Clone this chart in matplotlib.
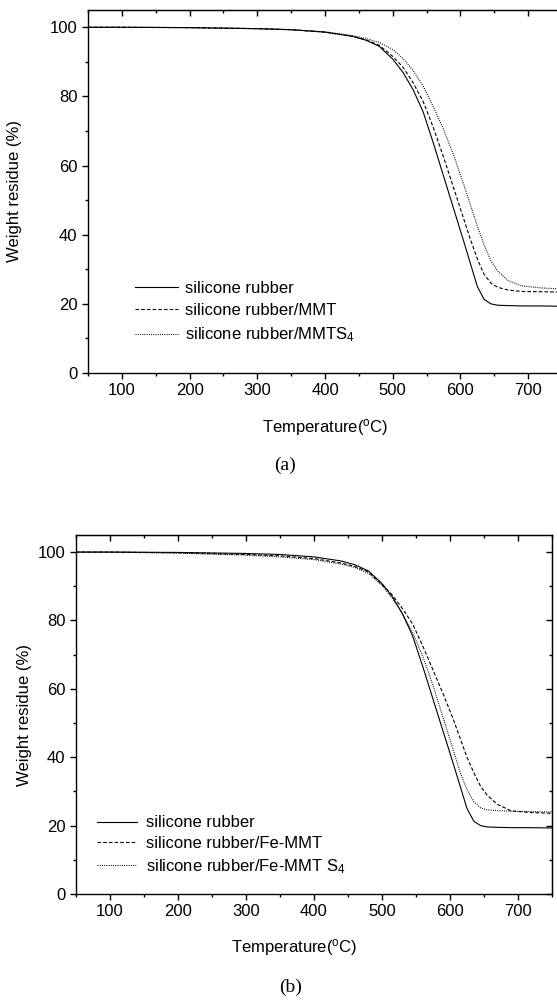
import numpy as np
import matplotlib
matplotlib.use('Agg')
import matplotlib.pyplot as plt
from matplotlib.ticker import MultipleLocator

plt.rcParams['font.family'] = ['Liberation Sans', 'DejaVu Sans']
plt.rcParams['mathtext.fontset'] = 'custom'
plt.rcParams['mathtext.rm'] = 'Liberation Sans'
plt.rcParams['mathtext.it'] = 'Liberation Sans:italic'
plt.rcParams['mathtext.bf'] = 'Liberation Sans:bold'
plt.rcParams['lines.scale_dashes'] = False

# temperatures (C) where the curves were read
temp = [50, 100, 200, 300, 350, 400, 440, 460, 480, 500, 515, 530, 545, 560, 575, 590,
        605, 615, 625, 635, 645, 655, 670, 690, 720, 750]

# panel (a)
sr_a = [100, 100, 99.9, 99.6, 99.3, 98.6, 97.4, 96.3, 94.5, 90.8, 87, 82, 75.5, 66.5, 57, 47.5,
        38, 31.5, 25, 21.3, 20, 19.6, 19.5, 19.4, 19.4, 19.3]
mmt_a = [100, 100, 99.9, 99.6, 99.3, 98.6, 97.4, 96.4, 94.8, 91.6, 88.5, 84, 78.5, 71, 62.5, 53.5,
         44.5, 38.5, 33, 28.5, 26, 24.8, 24, 23.6, 23.5, 23.4]
mmts4_a = [100, 100, 99.9, 99.6, 99.3, 98.7, 97.6, 96.8, 95.6, 93.6, 91, 87.5, 83, 77, 70.5, 63,
           54.5, 48.5, 42.5, 37, 32.5, 29.5, 26.8, 25.2, 24.6, 24.3]

# panel (b)
sr_b = [100, 100, 99.9, 99.6, 99.3, 98.6, 97.4, 96.3, 94.5, 90.8, 87, 82, 75.5, 66.5, 57, 47.5,
        38, 31.5, 25, 21.3, 20, 19.6, 19.5, 19.4, 19.4, 19.3]
femmt_b = [100, 100, 99.8, 99.3, 98.9, 98.1, 96.8, 95.8, 94.2, 90.5, 87.5, 83.5, 79, 72.5, 65.5, 58.5,
           51, 45.5, 40, 35.5, 31.5, 28.8, 26.2, 24.3, 23.8, 23.6]
femmts4_b = [100, 100, 99.7, 99.1, 98.6, 97.8, 96.5, 95.5, 93.8, 90.3, 86.5, 82, 76.5, 69.5, 61, 51.5,
             42, 35.5, 30.5, 27, 25.2, 24.6, 24.4, 24.2, 24.1, 24.0]

labels_a = ['silicone rubber', 'silicone rubber/MMT', 'silicone rubber/MMTS$_4$']
labels_b = ['silicone rubber', 'silicone rubber/Fe-MMT', 'silicone rubber/Fe-MMT S$_4$']

styles = ['-', (0, (2.6, 1.5)), (0, (0.7, 0.9))]

W, H = 557, 1000
fig = plt.figure(figsize=(W / 100, H / 100), dpi=100)


def px_axes(l, r, t, b):
    return fig.add_axes([l / W, 1 - b / H, (r - l) / W, (b - t) / H])


def setup(ax, series, labels, leg_xy, xl_xy, yl_xy, hl, htp, ls_gap, right_ticks):
    for y, lab, ls in zip(series, labels, styles):
        ax.plot(temp, y, color='k', lw=0.8, linestyle=ls, label=lab)
    ax.set_xlim(50, 750)
    ax.set_ylim(0, 105)
    ax.xaxis.set_major_locator(MultipleLocator(100))
    ax.xaxis.set_minor_locator(MultipleLocator(50))
    ax.yaxis.set_major_locator(MultipleLocator(20))
    ax.yaxis.set_minor_locator(MultipleLocator(10))
    ax.tick_params(which='both', direction='out', labelsize=12, width=1)
    ax.tick_params(which='major', length=4.5, pad=3)
    ax.tick_params(which='minor', length=2.5)
    for s in ax.spines.values():
        s.set_linewidth(1)
    # inward ticks on the top (and right) frame
    top = ax.secondary_xaxis('top')
    top.xaxis.set_major_locator(MultipleLocator(100))
    top.xaxis.set_minor_locator(MultipleLocator(50))
    top.tick_params(which='both', direction='in', labeltop=False, width=1)
    top.tick_params(which='major', length=4.5)
    top.tick_params(which='minor', length=2.5)
    if right_ticks:
        right = ax.secondary_yaxis('right')
        right.yaxis.set_major_locator(MultipleLocator(20))
        right.yaxis.set_minor_locator(MultipleLocator(10))
        right.tick_params(which='both', direction='in', labelright=False, width=1)
        right.tick_params(which='major', length=4.5)
        right.tick_params(which='minor', length=2.5)

    ax.set_xlabel('Temperature($^{\\mathrm{o}}$C)', fontsize=12, va='center')
    ax.xaxis.set_label_coords(*xl_xy)
    ax.set_ylabel('Weight residue (%)', fontsize=12, va='center', ha='center')
    ax.yaxis.set_label_coords(*yl_xy)
    ax.legend(loc='upper left', bbox_to_anchor=leg_xy, frameon=False, fontsize=12,
              handlelength=hl, handletextpad=htp, borderpad=0, borderaxespad=0,
              labelspacing=ls_gap)


# panel (a)
ax1 = px_axes(88, 562, 10, 373)
setup(ax1, [sr_a, mmt_a, mmts4_a], labels_a, (0.099, 0.254),
      (0.5, -0.149), (-0.156, 0.5), 2.6, 0.4, 0.45, False)

# panel (b)
ax2 = px_axes(76, 552, 535, 894)
setup(ax2, [sr_b, femmt_b, femmts4_b], labels_b, (0.044, 0.219),
      (0.458, -0.149), (-0.109, 0.5), 2.4, 0.55, 0.35, True)

fig.text(285 / W, 1 - 465 / H, '(a)', family='Liberation Serif', fontsize=14,
         ha='center', va='center')
fig.text(291 / W, 1 - 987 / H, '(b)', family='Liberation Serif', fontsize=14,
         ha='center', va='center')

fig.savefig('out.png', dpi=100)
